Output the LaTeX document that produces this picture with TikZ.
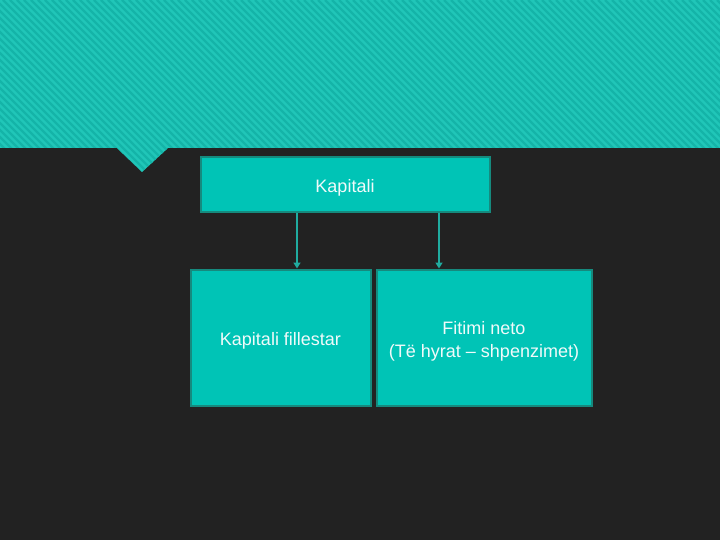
\documentclass[tikz,border=0pt]{standalone}
\usepackage{fontspec}
\setmainfont{Liberation Sans}
\usetikzlibrary{arrows.meta}
\definecolor{bg}{RGB}{34,34,34}
\definecolor{teal1}{RGB}{32,198,184}
\definecolor{teal2}{RGB}{20,180,168}
\definecolor{boxfill}{RGB}{0,196,182}
\definecolor{boxline}{RGB}{22,138,126}
\definecolor{arrcol}{RGB}{32,172,160}
\definecolor{txt}{RGB}{240,250,250}
\tikzset{
  box/.style={draw=boxline, line width=2pt, fill=boxfill, text=txt, align=center, inner sep=0pt, font=\fontsize{18}{23}\selectfont},
  arr/.style={draw=arrcol, line width=1.5pt, -{Triangle[length=6pt,width=7pt]}}
}
\begin{document}
\begin{tikzpicture}[x=1pt,y=-1pt]
\fill[bg] (0,0) rectangle (720,540);
\useasboundingbox (0,0) rectangle (720,540);
\begin{scope}
\clip (0,0) -- (720,0) -- (720,148) -- (168,148) -- (142,172) -- (117,148) -- (0,148) -- cycle;
\fill[teal1] (0,0) rectangle (720,175);
\foreach \i in {-200,-193,...,730} {
  \draw[teal2, line width=2.2pt] (\i,0) -- (\i+180,180);
}
\end{scope}
\node[box, minimum width=289pt, minimum height=55pt, text height=17pt, text depth=2pt] (kap) at (345,185) {Kapitali};
\node[box, minimum width=180pt, minimum height=136pt, text height=17pt, text depth=2pt] (fil) at (280.5,337.5) {Kapitali fillestar};
\node[box, minimum width=215pt, minimum height=136pt, text height=42pt, text depth=2.5pt] (fit) at (484,337.5) {Fitimi neto\\(Të hyrat – shpenzimet)};
\draw[arr] ([xshift=-48pt]kap.south) -- ([xshift=-48pt]kap.south |- fil.north);
\draw[arr] ([xshift=94pt]kap.south) -- ([xshift=94pt]kap.south |- fit.north);
\end{tikzpicture}
\end{document}
